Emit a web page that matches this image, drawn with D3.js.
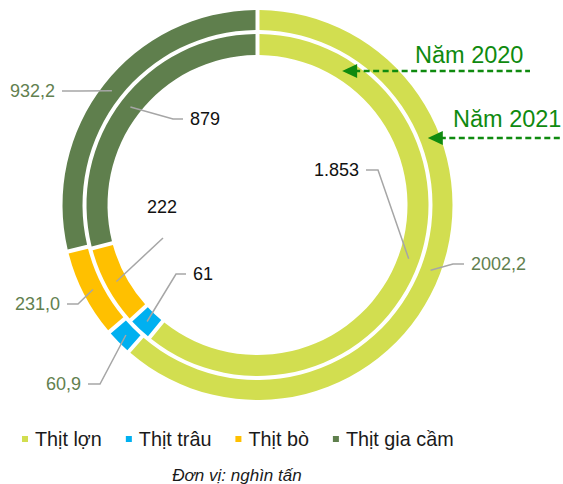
<!DOCTYPE html>
<html>
<head>
<meta charset="utf-8">
<script src="https://cdn.jsdelivr.net/npm/d3@7"></script>
<style>
  html, body { margin: 0; padding: 0; background: #fff; }
  svg { display: block; font-family: "Liberation Sans", Arial, sans-serif; }
</style>
</head>
<body>
<div id="chart"></div>
<script>
// Data
const categories = ['Thịt lợn', 'Thịt trâu', 'Thịt bò', 'Thịt gia cầm'];
const values2020 = [1853, 61, 222, 879];
const values2021 = [2002.2, 60.9, 231.0, 932.2];
const labels2020 = ['1.853', '61', '222', '879'];
const labels2021 = ['2002,2', '60,9', '231,0', '932,2'];
const colors = ['#d2de50', '#00b0f0', '#ffc000', '#5f7f4d'];
const yearLabels = ['Năm 2020', 'Năm 2021'];
const unitText = 'Đơn vị: nghìn tấn';

// Layout
const width = 563, height = 484;
const cx = 257.5, cy = 205;
const rings = [
  { values: values2020, labels: labels2020, inner: 150, outer: 171, textColor: '#111' },
  { values: values2021, labels: labels2021, inner: 175, outer: 195, textColor: '#62804f' }
];

// leader line layout per ring / category: elbow, end of line, text side
const leaders = [
  [
    { elbow: [378, 170], end: [366, 170], anchor: 'end' },
    { elbow: [176, 274], end: [186, 274], anchor: 'start' },
    { elbow: [163, 238], end: [163, 238], anchor: 'middle', text: [162, 207] },
    { elbow: [173, 119], end: [183, 119], anchor: 'start' }
  ],
  [
    { elbow: [453, 264], end: [464, 264], anchor: 'start' },
    { elbow: [100, 384], end: [88, 384], anchor: 'end' },
    { elbow: [78, 304], end: [67, 304], anchor: 'end' },
    { elbow: [80, 91], end: [62, 91], anchor: 'end' }
  ]
];

const svg = d3.select('#chart')
  .append('svg')
  .attr('width', width)
  .attr('height', height);

const pie = d3.pie()
  .sort(null)
  .value(d => d)
  .startAngle(0)
  .endAngle(Math.PI * 2)
  .padAngle(0.025);

const g = svg.append('g')
  .attr('transform', `translate(${cx},${cy})`);

rings.forEach((ring, ri) => {
  const arc = d3.arc()
    .innerRadius(ring.inner)
    .outerRadius(ring.outer)
    .padRadius(160);

  const slices = pie(ring.values);

  g.selectAll(`.ring${ri}`)
    .data(slices)
    .enter()
    .append('path')
    .attr('class', `ring${ri}`)
    .attr('d', arc)
    .attr('fill', (d, i) => colors[i]);

  // Leader lines and value labels
  slices.forEach((s, i) => {
    const c = arc.centroid(s);
    const L = leaders[ri][i];
    const p0 = [c[0] + cx, c[1] + cy];

    svg.append('polyline')
      .attr('points', [p0, L.elbow, L.end].map(p => p.join(',')).join(' '))
      .attr('fill', 'none')
      .attr('stroke', '#a6a6a6')
      .attr('stroke-width', 1.5);

    let tx, ty;
    if (L.text) {
      [tx, ty] = L.text;
    } else {
      tx = L.anchor === 'end' ? L.end[0] - 7 : L.end[0] + 7;
      ty = L.end[1];
    }

    svg.append('text')
      .attr('x', tx)
      .attr('y', ty)
      .attr('dy', '0.35em')
      .attr('text-anchor', L.anchor)
      .attr('font-size', 18)
      .attr('fill', ring.textColor)
      .text(ring.labels[i]);
  });
});

// Year arrows
const green = '#0f8a0f';
const arrows = [
  { ring: 0, y: 71, x2: 530, tx: 415, ty: 63 },
  { ring: 1, y: 138, x2: 563, tx: 453, ty: 127 }
];

arrows.forEach((a, i) => {
  const r = rings[a.ring];
  const rMid = (r.inner + r.outer) / 2 - 2;
  const dy = a.y - cy;
  const tipX = cx + Math.sqrt(rMid * rMid - dy * dy);

  svg.append('line')
    .attr('x1', tipX + 12)
    .attr('y1', a.y)
    .attr('x2', a.x2)
    .attr('y2', a.y)
    .attr('stroke', green)
    .attr('stroke-width', 2.5)
    .attr('stroke-dasharray', '6,3.5');

  svg.append('polygon')
    .attr('points', `${tipX},${a.y} ${tipX + 15},${a.y - 7} ${tipX + 15},${a.y + 7}`)
    .attr('fill', green);

  svg.append('text')
    .attr('x', a.tx)
    .attr('y', a.ty)
    .attr('font-size', 23.5)
    .attr('fill', green)
    .text(yearLabels[i]);
});

// Legend
const legend = svg.append('g');
let lx = 22;
categories.forEach((cat, i) => {
  legend.append('rect')
    .attr('x', lx)
    .attr('y', 436)
    .attr('width', 6)
    .attr('height', 6)
    .attr('fill', colors[i]);

  const t = legend.append('text')
    .attr('x', lx + 13)
    .attr('y', 439)
    .attr('dy', '0.35em')
    .attr('font-size', 19.8)
    .attr('fill', '#1a1a1a')
    .text(cat);

  lx += 13 + t.node().getComputedTextLength() + 24;
});

// Unit note
svg.append('text')
  .attr('x', 237)
  .attr('y', 475)
  .attr('dy', '0.35em')
  .attr('text-anchor', 'middle')
  .attr('font-size', 17)
  .attr('font-style', 'italic')
  .attr('fill', '#1a1a1a')
  .text(unitText);
</script>
</body>
</html>
